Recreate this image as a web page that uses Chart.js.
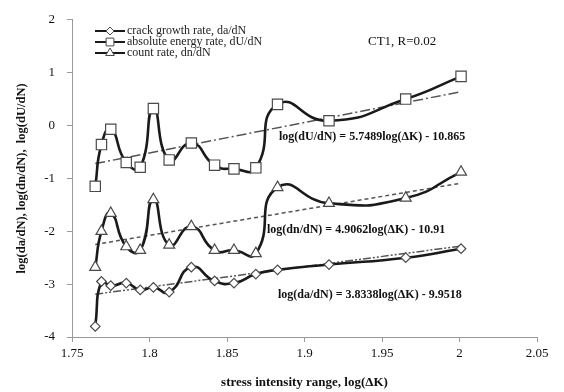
<!DOCTYPE html>
<html>
<head>
<meta charset="utf-8">
<script src="https://cdn.jsdelivr.net/npm/chart.js@4/dist/chart.umd.min.js"></script>
<style>
  html, body { margin: 0; padding: 0; background: #fff; }
  #wrap { width: 564px; height: 392px; }
</style>
</head>
<body>
<div id="wrap"><canvas id="chart" width="564" height="392"></canvas></div>
<script>
// values
const logDK = [1.765, 1.769, 1.775, 1.785, 1.794, 1.8025, 1.8127, 1.827, 1.842, 1.8545, 1.8686, 1.8826, 1.9158, 1.9653, 2.001];
const logDUdN = [-1.15, -0.36, -0.07, -0.70, -0.79, 0.32, -0.65, -0.33, -0.75, -0.82, -0.80, 0.40, 0.09, 0.50, 0.93];
const logDndN = [-2.68, -2.00, -1.66, -2.29, -2.36, -1.40, -2.26, -1.91, -2.36, -2.36, -2.42, -1.17, -1.47, -1.37, -0.88];
const logDadN = [-3.80, -2.95, -3.03, -2.98, -3.11, -3.06, -3.15, -2.68, -2.94, -2.98, -2.81, -2.73, -2.63, -2.50, -2.33];

// trend line end points
const trendX = [1.765, 2.001];
const trendU = [-0.72, 0.64];
const trendN = [-2.25, -1.09];
const trendA = [-3.19, -2.28];

const xTickLabels = ['1.75', '1.8', '1.85', '1.9', '1.95', '2', '2.05'];
const yTickLabels = ['-4', '-3', '-2', '-1', '0', '1', '2'];

const legendLabels = ['crack growth rate, da/dN', 'absolute energy rate, dU/dN', 'count rate, dn/dN'];
const legendStyles = ['rectRot', 'rect', 'triangle'];
const legendRadius = [4, 5.5, 5];

const caseLabel = 'CT1, R=0.02';
const eqU = 'log(dU/dN) = 5.7489log(\u0394K) - 10.865';
const eqN = 'log(dn/dN) = 4.9062log(\u0394K) - 10.91';
const eqA = 'log(da/dN) = 3.8338log(\u0394K) - 9.9518';

const serif = '"Liberation Serif", "DejaVu Serif", serif';
const lineColor = '#1a1a1a';
const markColor = '#4a4a4a';
const axisColor = '#9a9a9a';

const pts = (xs, ys) => xs.map((x, i) => ({ x: x, y: ys[i] }));

const curve = (label, ys, style, r) => ({
  label: label,
  data: pts(logDK, ys),
  borderColor: lineColor,
  borderWidth: 2.6,
  tension: 0.55,
  pointStyle: style,
  pointRadius: r,
  pointBackgroundColor: '#fff',
  pointBorderColor: markColor,
  pointBorderWidth: 1.2,
  order: 1
});

const trend = (ys, dash) => ({
  data: pts(trendX, ys),
  borderColor: '#555',
  borderWidth: 1.5,
  borderDash: dash,
  pointRadius: 0,
  tension: 0,
  order: 2
});

const annotate = {
  id: 'annotate',
  afterDraw(chart) {
    const ctx = chart.ctx;
    ctx.save();
    legendLabels.forEach((label, i) => {
      const y = 31 + i * 11;
      ctx.strokeStyle = lineColor;
      ctx.lineWidth = 2;
      ctx.setLineDash([]);
      ctx.beginPath();
      ctx.moveTo(95, y);
      ctx.lineTo(125, y);
      ctx.stroke();
      ctx.fillStyle = '#fff';
      ctx.strokeStyle = markColor;
      ctx.lineWidth = 1;
      Chart.helpers.drawPoint(ctx, { pointStyle: legendStyles[i], radius: legendRadius[i], borderWidth: 1, rotation: 0 }, 110, y);
      ctx.fillStyle = '#222';
      ctx.font = '12px ' + serif;
      ctx.textAlign = 'left';
      ctx.textBaseline = 'middle';
      ctx.fillText(label, 127, y);
    });
    ctx.fillStyle = '#111';
    ctx.textBaseline = 'middle';
    ctx.textAlign = 'left';
    ctx.font = '13px ' + serif;
    ctx.fillText(caseLabel, 368, 42);
    ctx.font = 'bold 12px ' + serif;
    ctx.fillText(eqU, 279, 137);
    ctx.fillText(eqN, 267, 230);
    ctx.fillText(eqA, 278, 295);
    ctx.restore();
  }
};

new Chart(document.getElementById('chart'), {
  type: 'line',
  data: {
    datasets: [
      curve(legendLabels[0], logDadN, 'rectRot', 4.8),
      curve(legendLabels[1], logDUdN, 'rect', 7.3),
      curve(legendLabels[2], logDndN, 'triangle', 6.3),
      trend(trendU, [10, 3, 2, 3]),
      trend(trendN, [4, 3]),
      trend(trendA, [8, 2, 2, 2, 2, 2])
    ]
  },
  options: {
    responsive: false,
    animation: false,
    devicePixelRatio: 1,
    layout: { padding: { left: 0, top: 10, right: 27, bottom: 0 } },
    plugins: { legend: { display: false }, tooltip: { enabled: false } },
    scales: {
      x: {
        type: 'linear',
        min: 1.75,
        max: 2.05,
        afterFit: s => { s.height = 55; },
        afterBuildTicks: s => { s.ticks = xTickLabels.map(t => ({ value: parseFloat(t) })); },
        ticks: {
          callback: (v, i) => xTickLabels[i],
          color: '#111',
          font: { family: serif, size: 13 },
          padding: 4,
          maxRotation: 0
        },
        grid: { display: true, drawOnChartArea: false, drawTicks: true, tickLength: 5, color: axisColor },
        border: { display: true, color: axisColor, width: 1 },
        title: {
          display: true,
          text: 'stress intensity range, log(\u0394K)',
          color: '#111',
          font: { family: serif, size: 13, weight: 'bold' },
          padding: { top: 0, bottom: 2 }
        }
      },
      y: {
        min: -4,
        max: 2,
        afterFit: s => { s.width = 72; },
        afterBuildTicks: s => { s.ticks = yTickLabels.map(t => ({ value: parseFloat(t) })); },
        ticks: {
          callback: (v, i) => yTickLabels[i],
          color: '#111',
          font: { family: serif, size: 13 },
          padding: 12
        },
        grid: { display: true, drawOnChartArea: false, drawTicks: true, tickLength: 5, color: axisColor },
        border: { display: true, color: axisColor, width: 1 },
        title: {
          display: true,
          text: 'log(da/dN), log(dn/dN),  log(dU/dN)',
          color: '#111',
          font: { family: serif, size: 12.5, weight: 'bold' },
          padding: { top: 14, bottom: 0 }
        }
      }
    }
  },
  plugins: [annotate]
});
</script>
</body>
</html>
